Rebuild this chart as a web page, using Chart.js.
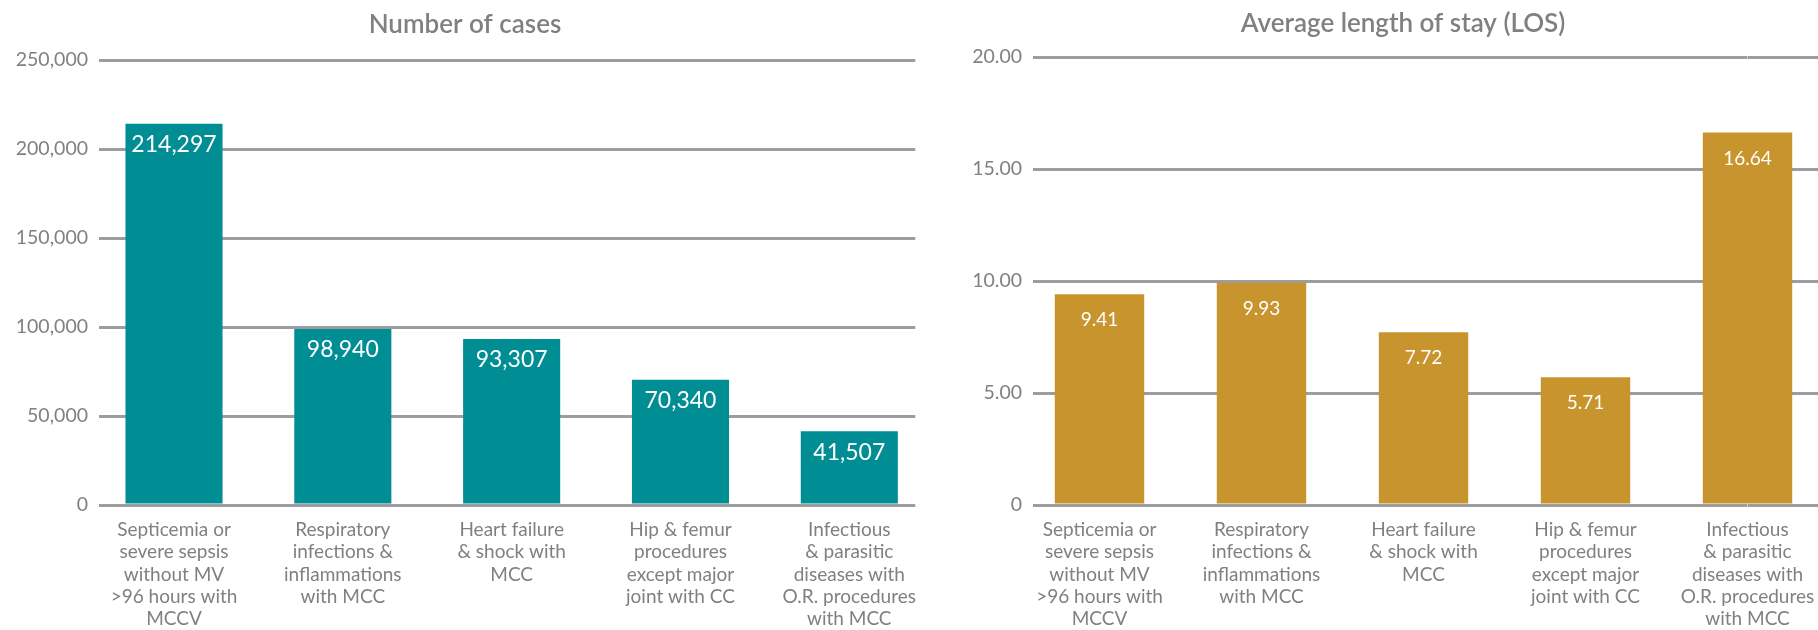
<!DOCTYPE html>
<html>
<head>
<meta charset="utf-8">
<script src="https://cdn.jsdelivr.net/npm/chart.js@4"></script>
<style>
  body { margin: 0; background: #fff; overflow: hidden; }
  canvas { position: absolute; top: 0; }
  #cases { left: 0; }
  #los { left: 930px; }
</style>
</head>
<body>
<canvas id="cases" width="930" height="630"></canvas>
<canvas id="los" width="946" height="630"></canvas>
<script>
var categories = [
  ['Septicemia or', 'severe sepsis', 'without MV', '>96 hours with', 'MCCV'],
  ['Respiratory', 'infections &', 'inflammations', 'with MCC'],
  ['Heart failure', '& shock with', 'MCC'],
  ['Hip & femur', 'procedures', 'except major', 'joint with CC'],
  ['Infectious', '& parasitic', 'diseases with', 'O.R. procedures', 'with MCC']
];
var cases = [214297, 98940, 93307, 70340, 41507];
var los = [9.41, 9.93, 7.72, 5.71, 16.64];
var casesTicks = [0, 50000, 100000, 150000, 200000, 250000];
var losTicks = [0, 5, 10, 15, 20];

var grey = '#808080';
var gridGrey = '#9d9d9f';

// value labels inside the top of each bar
var barLabels = {
  id: 'barLabels',
  afterDatasetsDraw: function (chart, args, opts) {
    var ctx = chart.ctx;
    var meta = chart.getDatasetMeta(0);
    ctx.save();
    ctx.fillStyle = '#fff';
    ctx.font = opts.size + 'px Lato';
    ctx.textAlign = 'center';
    ctx.textBaseline = 'middle';
    meta.data.forEach(function (bar, i) {
      ctx.fillText(opts.format(chart.data.datasets[0].data[i]), bar.x, bar.y + opts.offset);
    });
    ctx.restore();
  }
};

function makeChart(id, cfg) {
  var ticks = cfg.ticks;
  var yMax = ticks[ticks.length - 1];
  var step = ticks[1] - ticks[0];
  return new Chart(document.getElementById(id), {
    type: 'bar',
    data: {
      labels: categories,
      datasets: [{
        data: cfg.values,
        backgroundColor: cfg.color,
        categoryPercentage: cfg.barPct,
        barPercentage: 1,
        clip: false
      }]
    },
    plugins: [barLabels],
    options: {
      responsive: false,
      animation: false,
      devicePixelRatio: 1,
      layout: { padding: 0 },
      plugins: {
        legend: { display: false },
        tooltip: { enabled: false },
        title: {
          display: true,
          text: cfg.title,
          color: grey,
          font: { family: 'Lato', size: 26, weight: 600, lineHeight: 1.2 },
          padding: { top: cfg.titleTop, bottom: cfg.titleBottom }
        },
        barLabels: { size: cfg.labelSize, offset: cfg.labelOffset, format: cfg.labelFormat }
      },
      scales: {
        x: {
          offset: false,
          grid: { display: false, drawTicks: false },
          border: { display: false },
          ticks: {
            color: grey,
            autoSkip: false,
            maxRotation: 0,
            minRotation: 0,
            padding: 14,
            font: { family: 'Lato', size: 19, lineHeight: 1.17 }
          },
          afterFit: function (s) { s.height = 125; }
        },
        y: {
          min: 0,
          max: yMax,
          ticks: {
            stepSize: step,
            color: grey,
            padding: 11,
            font: { family: 'Lato', size: 19.5 },
            callback: cfg.tickFormat
          },
          grid: {
            color: gridGrey,
            lineWidth: 3,
            drawTicks: true,
            tickLength: cfg.leftTick,
            tickWidth: 3,
            tickColor: gridGrey
          },
          border: { display: false },
          afterFit: function (s) { s.width = cfg.left; }
        },
        y2: {
          position: 'right',
          min: 0,
          max: yMax,
          ticks: { stepSize: step, display: false },
          grid: {
            drawOnChartArea: false,
            drawTicks: true,
            tickLength: cfg.rightTick,
            tickWidth: 3,
            tickColor: gridGrey
          },
          border: { display: false },
          afterFit: function (s) { s.width = cfg.right; }
        }
      }
    }
  });
}

makeChart('cases', {
  title: 'Number of cases',
  values: cases,
  ticks: casesTicks,
  color: '#008e94',
  barPct: 0.575,
  titleTop: 9,
  titleBottom: 20,
  left: 174,
  leftTick: 75,
  right: 74,
  rightTick: 66,
  labelSize: 23,
  labelOffset: 21,
  labelFormat: function (v) { return v.toLocaleString('en-US'); },
  tickFormat: function (v) { return v.toLocaleString('en-US'); }
});

makeChart('los', {
  title: 'Average length of stay (LOS)',
  values: los,
  ticks: losTicks,
  color: '#c8942d',
  barPct: 0.552,
  titleTop: 8,
  titleBottom: 18,
  left: 169.5,
  leftTick: 66.5,
  right: 128.5,
  rightTick: 128,
  labelSize: 19,
  labelOffset: 26,
  labelFormat: function (v) { return v.toFixed(2); },
  tickFormat: function (v) { return v === 0 ? '0' : v.toFixed(2); }
});
</script>
</body>
</html>
